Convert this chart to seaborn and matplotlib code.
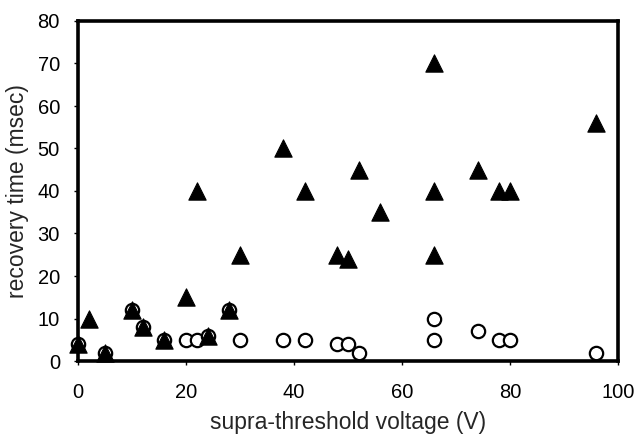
import matplotlib
matplotlib.use("Agg")
import matplotlib.pyplot as plt
import seaborn as sns
import pandas as pd

# Filled triangles: recovery time vs supra-threshold voltage
tri_voltage = [0, 2, 5, 10, 12, 16, 20, 22, 24, 28, 30, 38, 42, 48, 50, 52,
               56, 66, 66, 66, 74, 78, 80, 96]
tri_recovery = [4, 10, 2, 12, 8, 5, 15, 40, 6, 12, 25, 50, 40, 25, 24, 45,
                35, 70, 40, 25, 45, 40, 40, 56]

# Open circles
circ_voltage = [0, 5, 10, 12, 16, 20, 22, 24, 28, 30, 38, 42, 48, 50, 52,
                66, 66, 74, 78, 80, 96]
circ_recovery = [4, 2, 12, 8, 5, 5, 5, 6, 12, 5, 5, 5, 4, 4, 2,
                 10, 5, 7, 5, 5, 2]

x_ticks = [0, 20, 40, 60, 80, 100]
y_ticks = [0, 10, 20, 30, 40, 50, 60, 70, 80]

sns.set_style("white")
plt.rcParams["font.family"] = ["Liberation Sans", "DejaVu Sans"]

circles = pd.DataFrame({"voltage": circ_voltage, "recovery": circ_recovery})
triangles = pd.DataFrame({"voltage": tri_voltage, "recovery": tri_recovery})

fig = plt.figure(figsize=(6.37, 4.36), dpi=100)
ax = fig.add_axes([78 / 637, 1 - 361 / 436, 540 / 637, 340 / 436])

sns.scatterplot(data=circles, x="voltage", y="recovery", ax=ax, marker="o",
                s=92, facecolor="white", edgecolor="black", linewidth=1.6,
                zorder=3, clip_on=False)
sns.scatterplot(data=triangles, x="voltage", y="recovery", ax=ax, marker="^",
                s=155, color="black", edgecolor="black", linewidth=0.8,
                zorder=4, clip_on=False)

ax.set_xlim(0, 100)
ax.set_ylim(0, 80)
ax.set_xticks(x_ticks)
ax.set_yticks(y_ticks)
ax.tick_params(axis="both", direction="out", length=3, width=1,
               colors="black", labelsize=14.5)
ax.tick_params(axis="x", pad=13, bottom=True)
ax.tick_params(axis="y", pad=10, left=True)

for side in ["left", "right", "top", "bottom"]:
    ax.spines[side].set_visible(True)
    ax.spines[side].set_color("black")
    ax.spines[side].set_linewidth(2.6)

ax.set_xlabel("supra-threshold voltage (V)", fontsize=16.5, labelpad=6)
ax.set_ylabel("recovery time (msec)", fontsize=16.5, labelpad=6)

fig.savefig("out.png", dpi=100)
